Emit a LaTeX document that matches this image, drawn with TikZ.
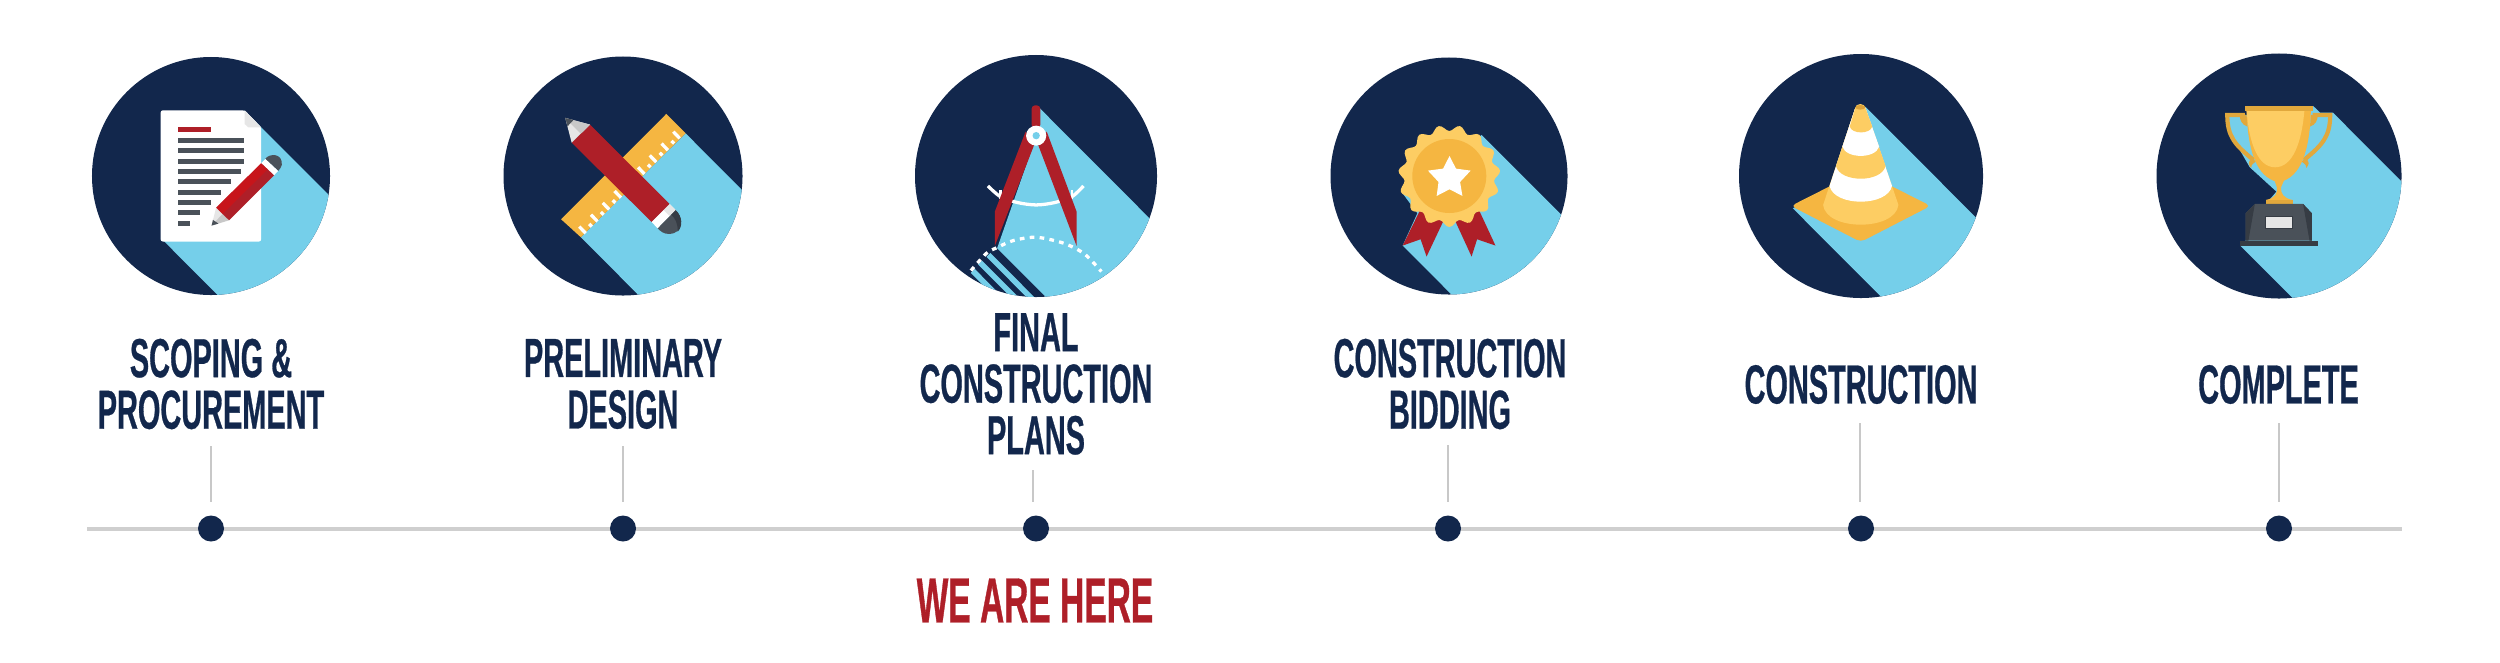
\documentclass[tikz,border=0pt]{standalone}
\usepackage{fontspec}
\setmainfont{Liberation Sans}
\newfontfamily\labelfont[FakeStretch=0.525,FakeBold=0.5]{Liberation Sans}
\definecolor{navy}{HTML}{12274C}
\definecolor{sky}{HTML}{75CFEA}
\definecolor{amber}{HTML}{F5B641}
\definecolor{honey}{HTML}{FDCD63}
\definecolor{crimson}{HTML}{AE1F28}
\definecolor{slate}{HTML}{4A5159}
\definecolor{slatedark}{HTML}{363C44}
\definecolor{paleg}{HTML}{E6E6E6}
\definecolor{midg}{HTML}{C8C8C8}
\definecolor{rule}{HTML}{CFCFCF}
\tikzset{
  crop/.style 2 args={shift={(#1,#2)},x=0.013776cm,y=-0.01cm},
  disc/.style={circle,fill=navy,inner sep=0pt,outer sep=0pt},
  steplabel/.style={font=\labelfont\bfseries\fontsize{47}{44}\selectfont,text=navy,align=center,inner sep=0pt},
  herelabel/.style={font=\labelfont\bfseries\fontsize{54.5}{54.5}\selectfont,text=crimson,inner sep=0pt},
  dot/.style={circle,fill=navy,minimum size=0.78cm,inner sep=0pt,outer sep=0pt},
  tick/.style={draw=midg,line width=2.2pt},
  timeline/.style={draw=rule,line width=3.6pt},
}
\begin{document}
\begin{tikzpicture}[x=0.03cm,y=-0.03cm]
\useasboundingbox (0,0) rectangle (2500,662);
% timeline
\coordinate (ls) at (87,529);
\coordinate (le) at (2402,529);
\draw[timeline] (ls) -- (le);
\node[dot] (d1) at (211,528.5) {};
\node[dot] (d2) at (623,528.5) {};
\node[dot] (d3) at (1036,528.5) {};
\node[dot] (d4) at (1448,528.5) {};
\node[dot] (d5) at (1861,528.5) {};
\node[dot] (d6) at (2279,528.5) {};
\coordinate (t1) at (211,446); \coordinate (b1) at (211,502);
\coordinate (t2) at (623,446); \coordinate (b2) at (623,502);
\coordinate (t3) at (1033,470); \coordinate (b3) at (1033,502);
\coordinate (t4) at (1448,445); \coordinate (b4) at (1448,502);
\coordinate (t5) at (1860,423); \coordinate (b5) at (1860,502);
\coordinate (t6) at (2279,423); \coordinate (b6) at (2279,502);
\foreach \i in {1,...,6}{\draw[tick] (t\i) -- (b\i);}
% labels
\node[steplabel] (l1) at (211,384) {SCOPING \&\\PROCUREMENT};
\node[steplabel] (l2) at (623,384) {PRELIMINARY\\DESIGN};
\node[steplabel] (l3) at (1036,384) {FINAL\\CONSTRUCTION\\PLANS};
\node[steplabel] (l4) at (1450,384) {CONSTRUCTION\\BIDDING};
\node[steplabel] (l5) at (1861,384.5) {CONSTRUCTION};
\node[steplabel] (l6) at (2278.5,384.5) {COMPLETE};
\node[herelabel] (here) at (1035,600.5) {WE ARE HERE};
% discs
\node[disc,minimum size=7.14cm] (c1) at (211,176) {};
\node[disc,minimum size=7.17cm] (c2) at (623,176) {};
\node[disc,minimum size=7.26cm] (c3) at (1036,176) {};
\node[disc,minimum size=7.11cm] (c4) at (1449,176) {};
\node[disc,minimum size=7.32cm] (c5) at (1861,176) {};
\node[disc,minimum size=7.35cm] (c6) at (2279,176) {};
% ---------- icon 1
\begin{scope}
\clip (211,176) circle (119);
\begin{scope}[crop={60}{50}]
\fill[sky] (402,182) -- (800,732) -- (623,1122) -- (225,572) -- cycle;
\end{scope}
\end{scope}
\begin{scope}[crop={60}{50}]
\fill[white,rounded corners=2pt] (219,181) -- (402,181) -- (438,232) -- (438,575) -- (219,575) -- cycle;
\fill[paleg] (402,181) -- (438,232) -- (410,232) -- (402,222) -- cycle;
\fill[crimson] (257,232) rectangle (329,247);
\foreach \yy/\xx in {264/401,295/401,326/401,357/395,388/372,419/350,450/328,481/305,512/282}
  {\fill[slate] (257,\yy) rectangle (\xx,\yy+15);}
\fill[slate] (447,327) .. controls (455,310) and (485,308) .. (483,345) .. controls (482,352) and (478,358) .. (475,363) -- cycle;
\fill[white] (438,340) -- (447,327) -- (475,363) -- (466,376) -- cycle;
\fill[paleg] (340,473) -- (368,511) -- (330,527) -- cycle;
\fill[midg] (354,492) -- (368,511) -- (330,527) -- cycle;
\fill[slate] (333,510) -- (345,521) -- (330,527) -- cycle;
\fill[crimson] (340,473) -- (438,340) -- (466,376) -- (368,511) -- cycle;
\fill[red!70!crimson,opacity=.45] (340,473) -- (438,340) -- (452,358) -- (354,492) -- cycle;
\end{scope}
% ---------- icon 2
\begin{scope}
\clip (623,176) circle (119.5);
\begin{scope}[crop={60}{50}]
\fill[sky] (1362,250) -- (1762,803) -- (1534,1115) -- (1134,562) -- cycle;
\end{scope}
\end{scope}
\begin{scope}[crop={60}{50}]
\fill[amber] (1320,192) -- (1362,250) -- (1134,562) -- (1091,508) -- cycle;
\foreach \k in {0,...,8}{
  \draw[white,line width=2.8pt] (1137.5+\k*25.6-7,540-\k*35.6-10) -- (1137.5+\k*25.6+7,540-\k*35.6+10);
}
\foreach \k in {0,...,7}{
  \draw[white,line width=2.8pt] (1155+\k*25.6-3,526-\k*35.6-4) -- (1155+\k*25.6+3,526-\k*35.6+4);
}
\fill[slate] (1340,480) .. controls (1356,500) and (1360,552) .. (1325,552) .. controls (1315,552) and (1308,545) .. (1301,535) -- cycle;
\fill[slatedark] (1340,480) .. controls (1356,500) and (1356,530) .. (1345,545) .. controls (1345,520) and (1340,505) .. (1330,494) -- cycle;
\fill[white] (1327,462) -- (1340,480) -- (1301,535) -- (1288,516) -- cycle;
\fill[paleg] (1327,462) -- (1340,480) -- (1327,498) -- (1314,480) -- cycle;
\fill[crimson] (1154,224) -- (1327,462) -- (1288,516) -- (1114,278) -- cycle;
\fill[paleg] (1154,224) -- (1114,278) -- (1100,204) -- cycle;
\fill[midg] (1154,224) -- (1134,251) -- (1100,204) -- cycle;
\fill[slate] (1100,204) -- (1118,210) -- (1105,229) -- cycle;
\end{scope}
% ---------- icon 3
\begin{scope}
\clip (1036,176) circle (121);
\begin{scope}[crop={880}{80}]
\fill[sky] (348,85) -- (748,638) -- (655,1058) -- (255,505) -- (340,170) -- cycle;
\draw[sky,line width=4.7pt] (236,525) -- (340,669);
\draw[sky,line width=4.7pt] (218,548) -- (310,675);
\draw[sky,line width=4.7pt] (202,573) -- (280,681);
\end{scope}
\end{scope}
\begin{scope}[crop={880}{80}]
\draw[white,line width=2.8pt] plot[smooth] coordinates {(235,318) (262,350) (300,368) (340,375) (380,368) (418,350) (443,318)};
\draw[white,line width=2.2pt] (262,330) -- (262,358);
\draw[white,line width=2.2pt] (418,330) -- (418,358);
\draw[white,line width=2.8pt,dash pattern=on 4pt off 4.5pt] plot[smooth] coordinates {(198,572) (232,520) (255,503) (290,482) (340,472) (400,490) (445,522) (482,575)};
\fill[crimson,rounded corners=3pt] (330,145) -- (330,76) -- (349,76) -- (349,145) -- cycle;
\fill[crimson] (317,155) -- (337,190) -- (250,498) -- (250,395) -- cycle;
\fill[crimson] (363,155) -- (343,190) -- (428,498) -- (428,395) -- cycle;
\fill[white] (340,167) circle [x radius=22,y radius=30];
\fill[sky] (340,167) circle [x radius=8,y radius=11];
\end{scope}
% ---------- icon 4
\begin{scope}
\clip (1449,176) circle (118.5);
\begin{scope}[crop={880}{80}]
\fill[sky] (1310,165) -- (1710,718) -- (1538,1050) -- (1138,497) -- (1170,400) -- (1135,335) -- cycle;
\end{scope}
\end{scope}
\begin{scope}[crop={880}{80}]
\fill[crimson] (1175,393) -- (1226,425) -- (1190,530) -- (1177,478) -- (1138,497) -- cycle;
\fill[crimson] (1305,393) -- (1253,425) -- (1288,530) -- (1300,478) -- (1340,497) -- cycle;
\end{scope}
\fill[honey] plot[smooth cycle,samples=120,domain=0:357] ({1449.3+(48+3*cos(15*(\x-90)))*cos(\x)},{176+(48+3*cos(15*(\x-90)))*sin(\x)});
\fill[amber] (1449.3,176) circle (37);
\begin{scope}[crop={880}{80}]
\fill[white] (1240,228) -- (1254,266) -- (1286,272) -- (1263,306) -- (1268,348) -- (1240,328) -- (1212,348) -- (1216,306) -- (1193,272) -- (1226,266) -- cycle;
\end{scope}
% ---------- icon 5
\begin{scope}
\clip (1861,176) circle (122);
\begin{scope}[crop={1700}{80}]
\fill[sky] (360,80) -- (760,633) -- (602,938) -- (202,385) -- (282,330) -- cycle;
\end{scope}
\end{scope}
\begin{scope}[crop={1700}{80}]
\fill[amber,rounded corners=4pt] (350,486) -- (502,378) -- (350,272) -- (198,378) -- cycle;
\fill[honey] (349,84) circle [x radius=11,y radius=12];
\fill[honey] (338,84) -- (268,375) .. controls (275,454) and (425,454) .. (432,375) -- (360,84) -- cycle;
\fill[white] (338,84) -- (282,318) .. controls (292,381) and (408,381) .. (418,318) -- (360,84) -- cycle;
\fill[honey] (338,84) -- (296,258) .. controls (305,309) and (395,309) .. (404,258) -- (360,84) -- cycle;
\fill[white] (338,84) -- (310,200) .. controls (318,237) and (382,237) .. (390,200) -- (360,84) -- cycle;
\fill[honey] (338,84) -- (326,140) .. controls (331,163) and (370,163) .. (375,140) -- (360,84) -- cycle;
\fill[amber!90!black] (349,82) circle [x radius=11,y radius=7];
\end{scope}
% ---------- icon 6
\begin{scope}
\clip (2279,176) circle (122.5);
\begin{scope}[crop={1700}{80}]
\fill[sky] (1335,78) -- (1350,98) -- (1378,98) -- (1778,651) -- (1577,1051) -- (1177,498) -- (1188,482) -- (1232,372) -- (1255,335) -- (1197,262) -- (1150,150) -- (1150,105) -- (1190,105) -- cycle;
\end{scope}
\end{scope}
\begin{scope}[crop={1700}{80}]
\draw[amber!92!black,line width=3.6pt] (1186,105) -- (1148,105) .. controls (1148,170) and (1165,195) .. (1205,240);
\draw[amber!92!black,line width=3.6pt] (1334,105) -- (1372,105) .. controls (1372,170) and (1355,195) .. (1315,240);
\fill[amber!92!black] (1175,105) -- (1190,105) -- (1192,140) .. controls (1180,135) and (1175,120) .. (1175,105) -- cycle;
\fill[amber!92!black] (1345,105) -- (1330,105) -- (1328,140) .. controls (1340,135) and (1345,120) .. (1345,105) -- cycle;
\fill[amber!92!black] (1203,236) .. controls (1190,245) and (1195,255) .. (1200,264) .. controls (1200,250) and (1208,250) .. (1210,245) -- cycle;
\fill[amber!92!black] (1317,236) .. controls (1330,245) and (1325,255) .. (1320,264) .. controls (1320,250) and (1312,250) .. (1310,245) -- cycle;
% cup
\fill[amber] (1190,90) -- (1330,90) .. controls (1328,190) and (1315,280) .. (1270,303) -- (1250,303) .. controls (1205,280) and (1192,190) .. (1190,90) -- cycle;
\fill[honey] (1190,90) -- (1316,90) .. controls (1310,190) and (1290,262) .. (1252,262) .. controls (1215,262) and (1195,190) .. (1190,90) -- cycle;
\fill[amber!92!black] (1186,78) rectangle (1335,92);
% stem and foot
\fill[amber] (1251,303) -- (1271,303) -- (1265,322) .. controls (1264,340) and (1270,355) .. (1290,360) -- (1232,360) .. controls (1252,355) and (1258,340) .. (1256,322) -- cycle;
\fill[amber!92!black] (1232,360) rectangle (1290,372);
% base
\fill[slate] (1208,372) -- (1313,372) -- (1332,400) -- (1332,482) -- (1188,482) -- (1188,400) -- cycle;
\fill[slatedark] (1208,372) -- (1188,400) -- (1188,482) -- (1194,482) -- cycle;
\fill[slatedark] (1313,372) -- (1332,400) -- (1332,482) -- (1327,482) -- cycle;
\fill[slatedark] (1176,482) rectangle (1345,498);
\fill[paleg,draw=slatedark,line width=.6pt] (1231,408) rectangle (1290,445);
\end{scope}
\end{tikzpicture}
\end{document}
